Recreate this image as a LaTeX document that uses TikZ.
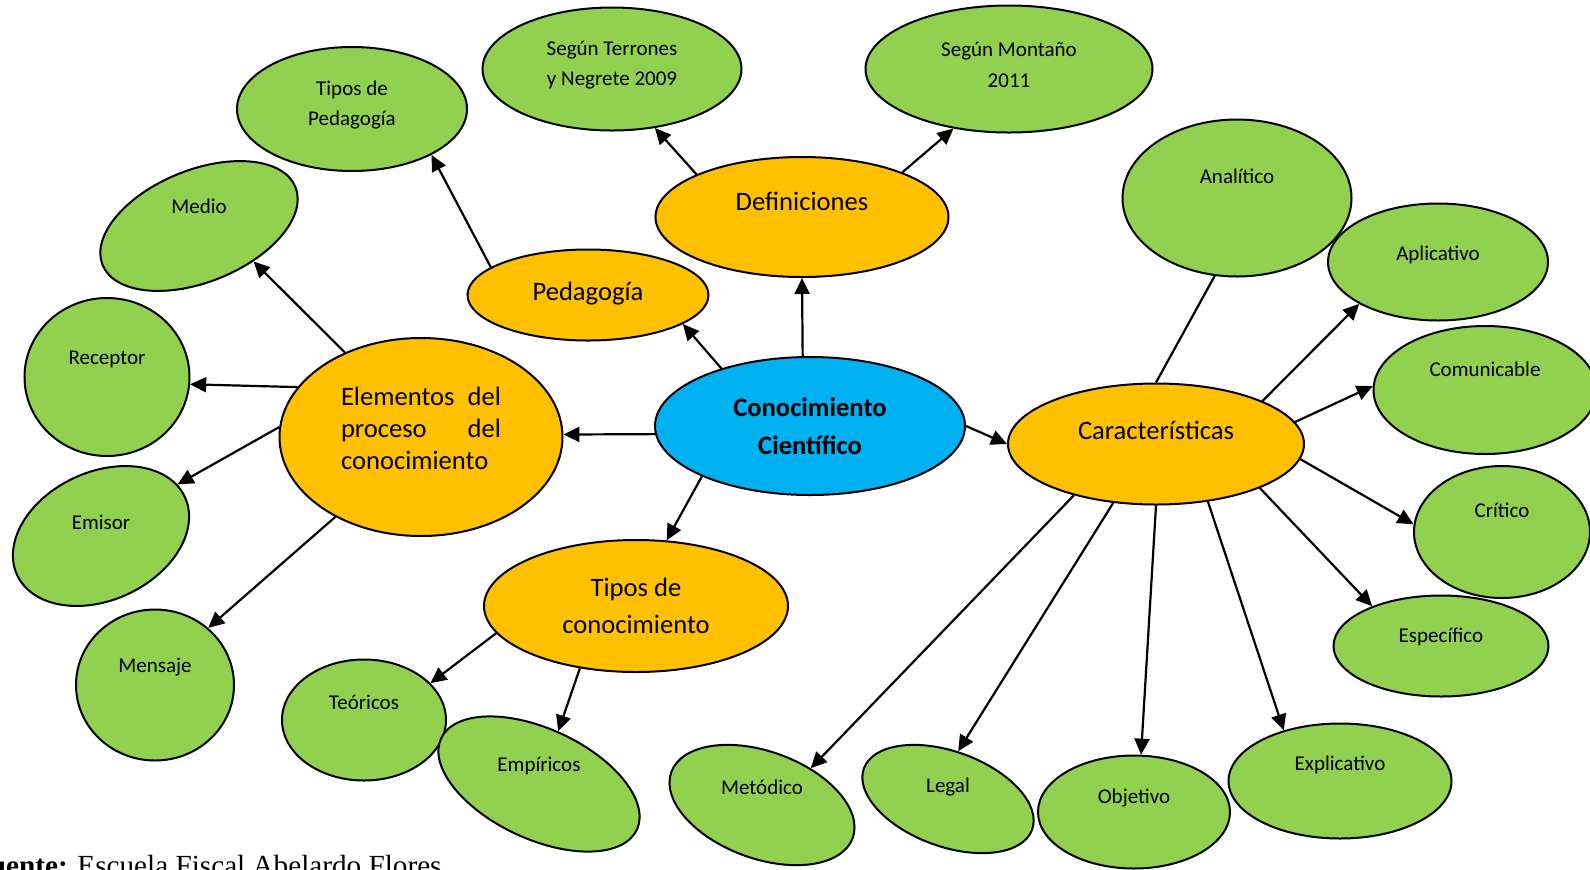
\documentclass[tikz,border=0pt]{standalone}
\usepackage{fontspec}
\setmainfont{Carlito}
\newfontfamily\fuentefont{Liberation Serif}
\usetikzlibrary{shapes.geometric, arrows.meta}
\definecolor{verde}{HTML}{92D050}
\definecolor{naranja}{HTML}{FFC000}
\definecolor{azul}{HTML}{00B0F0}
\tikzset{
  globo/.style={ellipse, draw=black, line width=1pt, inner sep=2pt},
  central/.style={globo, fill=azul, align=center, font=\bfseries\fontsize{13.3}{18.8}\selectfont},
  rama/.style={globo, fill=naranja, align=center, font=\fontsize{13.3}{18.8}\selectfont},
  hoja/.style={globo, fill=verde},
  etiq/.style={align=center, font=\fontsize{10.5}{15.2}\selectfont},
  flecha/.style={-{Triangle[length=8pt,width=7.5pt]}, line width=1.1pt},
  linea/.style={line width=1.1pt}
}

\begin{document}
\begin{tikzpicture}[x=0.5pt, y=-0.5pt]
\clip (0,0) rectangle (1590,869);
\node (conoc) [central, minimum width=155pt, minimum height=69pt] at (810,426) {Conocimiento\\Científico};
\node (defin) [rama, minimum width=146.5pt, minimum height=60pt, text height=8.6pt, text depth=15pt] at (802,217) {Definiciones};
\node (pedag) [rama, minimum width=120.5pt, minimum height=45.5pt, text height=8.6pt, text depth=3pt] at (588,295) {Pedagogía};
\node (elem) [rama, minimum width=141.5pt, minimum height=99pt, text width=80pt, align=justify, text height=9.5pt, text depth=41.5pt, font=\fontsize{13.3}{16.2}\selectfont] at (421,437) {Elementos del\linebreak proceso del\linebreak conocimiento};
\node (tiposc) [rama, minimum width=152pt, minimum height=66pt] at (636,606) {Tipos de\\conocimiento};
\node (caract) [rama, minimum width=148pt, minimum height=60.5pt, text height=8.6pt, text depth=13pt] at (1156,444) {Características};

\node (tped) [hoja, minimum width=115pt, minimum height=62pt, label={[etiq, name=tped-t, yshift=2pt]center:Tipos de\\Pedagogía}] at (352,109) {};
\node (terr) [hoja, minimum width=129.5pt, minimum height=61.5pt, label={[etiq, name=terr-t, yshift=2pt]center:Según Terrones\\y Negrete 2009}] at (612,69) {};
\node (mont) [hoja, minimum width=143.5pt, minimum height=63.5pt, label={[etiq, name=mont-t, yshift=2pt]center:Según Montaño\\2011}] at (1009,69) {};
\node (medio) [hoja, minimum width=104pt, minimum height=56pt, rotate=22, label={[etiq, name=medio-t, yshift=10pt]center:Medio}] at (199,226) {};
\node (recep) [hoja, minimum width=82.5pt, minimum height=79pt, label={[etiq, name=recep-t, yshift=9pt]center:Receptor}] at (107,377) {};
\node (emisor) [hoja, minimum width=92.5pt, minimum height=64pt, rotate=25, label={[etiq, name=emisor-t, yshift=7pt]center:Emisor}] at (101,536) {};
\node (mensaje) [hoja, minimum width=79pt, minimum height=75.5pt, label={[etiq, name=mensaje-t, yshift=9pt]center:Mensaje}] at (155,685) {};
\node (teor) [hoja, minimum width=82pt, minimum height=60.5pt, label={[etiq, name=teor-t, yshift=9pt]center:Teóricos}] at (364,720) {};
\node (empir) [hoja, minimum width=108pt, minimum height=55pt, rotate=-25, label={[etiq, name=empir-t, yshift=9pt]center:Empíricos}] at (539,784) {};
\node (metod) [hoja, minimum width=96.5pt, minimum height=53.5pt, rotate=-20, label={[etiq, name=metod-t, yshift=9pt]center:Metódico}] at (762,805) {};
\node (legal) [hoja, minimum width=89.5pt, minimum height=47.5pt, rotate=-20, label={[etiq, name=legal-t, yshift=6pt]center:Legal}] at (948,799) {};
\node (objet) [hoja, minimum width=96pt, minimum height=56.5pt, label={[etiq, name=objet-t, yshift=7pt]center:Objetivo}] at (1134,812) {};
\node (explic) [hoja, minimum width=111.5pt, minimum height=57.5pt, label={[etiq, name=explic-t, yshift=8pt]center:Explicativo}] at (1340,781) {};
\node (espec) [hoja, minimum width=107.5pt, minimum height=50.5pt, label={[etiq, name=espec-t, yshift=4.5pt]center:Específico}] at (1441,646) {};
\node (critico) [hoja, minimum width=88pt, minimum height=66pt, label={[etiq, name=critico-t, yshift=11pt]center:Crítico}] at (1502,532) {};
\node (comun) [hoja, minimum width=111.5pt, minimum height=64pt, label={[etiq, name=comun-t, yshift=10.5pt]center:Comunicable}] at (1485,390) {};
\node (aplic) [hoja, minimum width=110pt, minimum height=58.5pt, label={[etiq, name=aplic-t, yshift=3.5pt]center:Aplicativo}] at (1438,262) {};
\node (analit) [hoja, minimum width=114.5pt, minimum height=78.5pt, label={[etiq, name=analit-t, yshift=11pt]center:Analítico}] at (1237,198) {};

\draw [flecha] (conoc.96) -- (defin.-90);
\draw [flecha] (conoc.147) -- (pedag.-17);
\draw [flecha] (conoc.183) -- (elem.1);
\draw [flecha] (conoc.205) -- (tiposc.65);
\draw [flecha] (conoc.0) -- (caract.180);
\draw [flecha] (defin.158) -- (terr.-54);
\draw [flecha] (defin.24) -- (mont.-133);
\draw [flecha] (pedag.164) -- (tped.-30);
\draw [flecha] (elem.132) -- (medio.-55);
\draw [flecha] (elem.158) -- (recep.-5);
\draw [flecha] (elem.176) -- (emisor.9);
\draw [flecha] (elem.223) -- (mensaje.47);
\draw [flecha] (tiposc.191) -- (teor.29);
\draw [flecha] (tiposc.228) -- (empir.95);
\draw [linea] (caract.90) -- (analit.-106);
\draw [flecha] (caract.22) -- (aplic.-152);
\draw [flecha] (caract.9) -- (comun.178);
\draw [flecha] (caract.-6) -- (critico.175);
\draw [flecha] (caract.-23) -- (espec.150);
\draw [flecha] (caract.-48) -- (explic.138);
\draw [flecha] (caract.-90) -- (objet.83);
\draw [flecha] (caract.-126) -- (legal.98);
\draw [flecha] (caract.-148) -- (metod.57);

\node (fuente) [anchor=base west, font=\fuentefont\fontsize{14.6}{17}\selectfont] at (-35,875) {\textbf{Fuente:} Escuela Fiscal Abelardo Flores};
\end{tikzpicture}
\end{document}
